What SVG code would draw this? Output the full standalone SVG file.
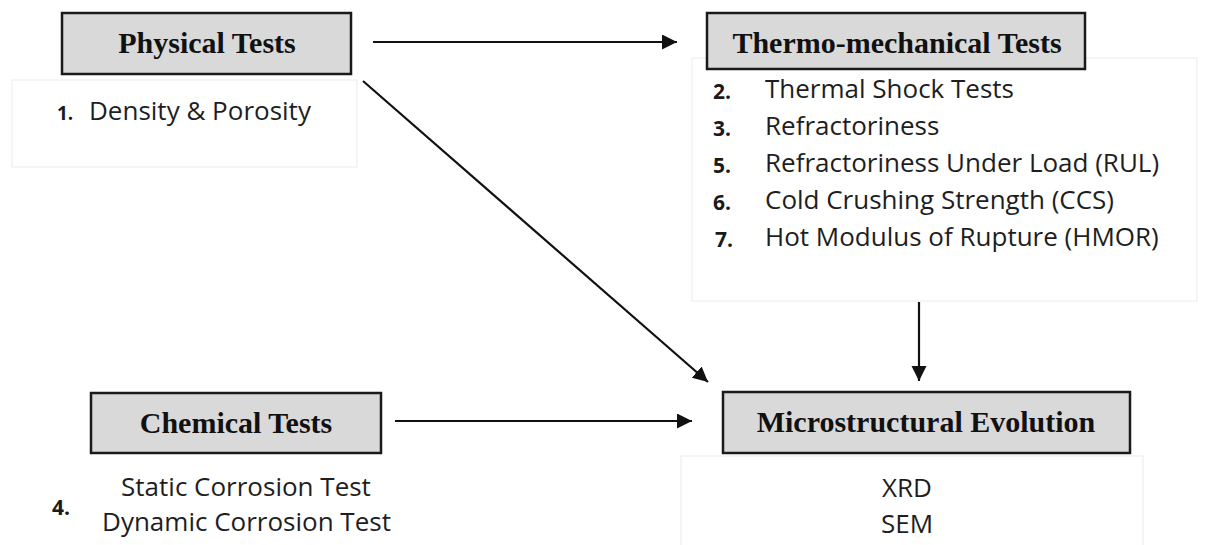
<svg xmlns="http://www.w3.org/2000/svg" width="1209" height="545" viewBox="0 0 1209 545">
<style>
.hdr{fill:#d9d9d9;stroke:#1a1a1a;stroke-width:2.5}
.htxt{font-family:"Liberation Serif","Times New Roman",serif;font-weight:bold;font-size:30px;fill:#111;text-anchor:middle}
.lbox{fill:#fff;stroke:#efefef;stroke-width:1.2}
.body{font-family:"Open Sans","Liberation Sans",sans-serif;font-size:26px;fill:#1e1e1e}
.num{font-family:"Open Sans","Liberation Sans",sans-serif;font-size:21px;font-weight:bold;fill:#1a1a1a}
.num1{font-size:19px}
.mid{text-anchor:middle}
.conn{stroke:#111;stroke-width:2.2;fill:none;marker-end:url(#arr)}
</style>
<defs>
<marker id="arr" markerUnits="userSpaceOnUse" markerWidth="16" markerHeight="16" refX="15" refY="7.5" orient="auto">
<path d="M0,0 L15,7.5 L0,15 z" fill="#111"/>
</marker>
</defs>
<rect width="1209" height="545" fill="#fff"/>

<g id="physical">
<rect class="lbox" x="12" y="80" width="345" height="87"/>
<rect class="hdr" x="62" y="13" width="289" height="61"/>
<text class="htxt" x="207" y="53">Physical Tests</text>
<text class="num num1" x="57" y="120">1.</text>
<text class="body" x="89" y="120">Density &amp; Porosity</text>
</g>

<g id="thermo">
<rect class="lbox" x="692" y="58" width="505" height="243"/>
<rect class="hdr" x="707" y="13" width="378" height="56"/>
<text class="htxt" x="897" y="53">Thermo-mechanical Tests</text>
<text class="num" x="713" y="99">2.</text>
<text class="body" x="765" y="98">Thermal Shock Tests</text>
<text class="num" x="713" y="136">3.</text>
<text class="body" x="765" y="135">Refractoriness</text>
<text class="num" x="713" y="173">5.</text>
<text class="body" x="765" y="172">Refractoriness Under Load (RUL)</text>
<text class="num" x="713" y="210">6.</text>
<text class="body" x="765" y="209">Cold Crushing Strength (CCS)</text>
<text class="num" x="715" y="247">7.</text>
<text class="body" x="765" y="246">Hot Modulus of Rupture (HMOR)</text>
</g>

<g id="chemical">
<rect class="hdr" x="91" y="393" width="290" height="60"/>
<text class="htxt" x="236" y="433">Chemical Tests</text>
<text class="num" x="52" y="515">4.</text>
<text class="body mid" x="246" y="496">Static Corrosion Test</text>
<text class="body mid" x="246.5" y="531">Dynamic Corrosion Test</text>
</g>

<g id="micro">
<rect class="lbox" x="681" y="456" width="462" height="100"/>
<rect class="hdr" x="723" y="392" width="407" height="61"/>
<text class="htxt" x="926" y="432">Microstructural Evolution</text>
<text class="body mid" x="907" y="497">XRD</text>
<text class="body mid" x="907" y="533">SEM</text>
</g>

<g id="connectors">
<line class="conn" x1="373" y1="42" x2="677" y2="42"/>
<line class="conn" x1="363" y1="81" x2="708" y2="382"/>
<line class="conn" x1="395" y1="421" x2="692" y2="421"/>
<line class="conn" x1="919" y1="302" x2="919" y2="381"/>
</g>
</svg>
